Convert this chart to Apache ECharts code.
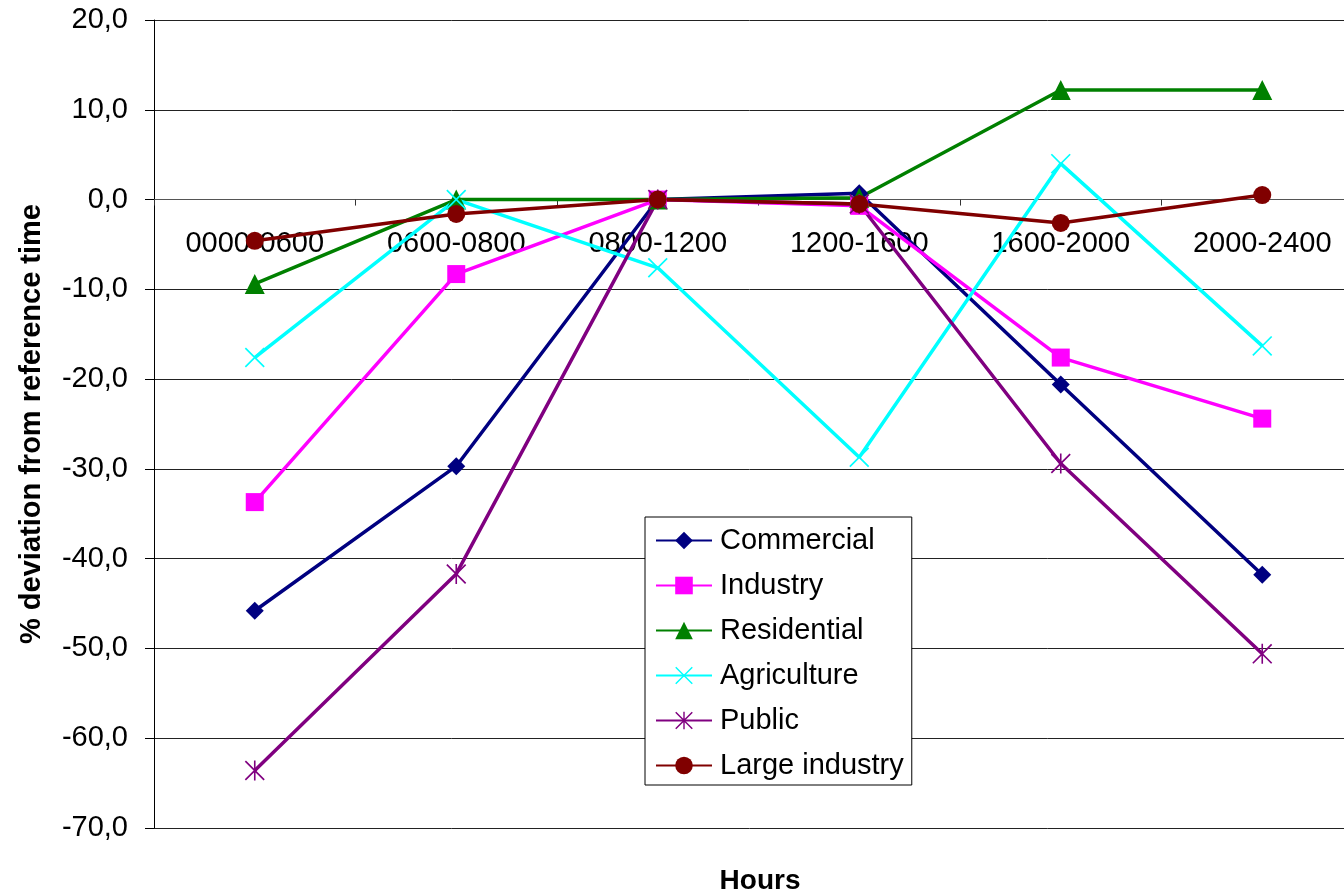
<!DOCTYPE html>
<html>
<head>
<meta charset="utf-8">
<script src="https://cdn.jsdelivr.net/npm/echarts@6/dist/echarts.min.js"></script>
<style>
  html, body { margin: 0; padding: 0; background: #ffffff; }
  #chart { width: 1344px; height: 891px; }
</style>
</head>
<body>
<div id="chart"></div>
<script>
// Time-of-day bands
const hours = ['0000-0600', '0600-0800', '0800-1200', '1200-1600', '1600-2000', '2000-2400'];

// % deviation from reference time, per customer class
const commercial    = [-45.8, -29.7, 0, 0.7, -20.6, -41.8];
const industry      = [-33.7, -8.3, 0, -0.7, -17.6, -24.4];
const residential   = [-9.4, 0, 0, 0.2, 12.2, 12.2];
const agriculture   = [-17.6, 0, -7.6, -28.7, 4.0, -16.3];
const publicSector  = [-63.6, -41.7, 0, -0.5, -29.4, -50.6];
const largeIndustry = [-4.6, -1.6, 0, -0.5, -2.6, 0.5];

// Value axis ticks
const yMin = -70, yMax = 20, yStep = 10;

const FONT = '"Liberation Sans", Arial, sans-serif';

// Plot frame (the right part of the plot runs past the canvas edge)
const GRID_TOP = 20, GRID_HEIGHT = 808;
// Shift that puts the category axis on the zero line
const zeroOffset = -GRID_HEIGHT * (0 - yMin) / (yMax - yMin);

// Thin-armed marker shapes (filled outlines so they render as strokes)
const xMark = 'path://M0 1.2L1.2 0L20 18.8L18.8 20Z M18.8 0L20 1.2L1.2 20L0 18.8Z';
const starMark = 'path://M0 1.2L1.2 0L20 18.8L18.8 20Z M18.8 0L20 1.2L1.2 20L0 18.8Z M9.2 0L10.8 0L10.8 20L9.2 20Z';

function line(name, data, color, symbol, size) {
  return {
    name: name,
    type: 'line',
    data: data,
    symbol: symbol,
    symbolSize: size,
    showAllSymbol: true,
    lineStyle: { color: color, width: 3.5 },
    itemStyle: { color: color },
    emphasis: { disabled: true }
  };
}

const chart = echarts.init(document.getElementById('chart'), null, { renderer: 'canvas' });

chart.setOption({
  animation: false,
  backgroundColor: '#ffffff',
  textStyle: { fontFamily: FONT },
  title: {
    text: 'Hours',
    left: 755,
    top: 862,
    textAlign: 'center',
    textStyle: { fontFamily: FONT, fontSize: 28, fontWeight: 'bold', color: '#000' }
  },
  grid: {
    left: 154, top: GRID_TOP, width: 1209, height: GRID_HEIGHT,
    containLabel: false,
    outerBoundsMode: 'none'
  },
  legend: {
    orient: 'vertical',
    left: 645,
    top: 517,
    padding: [9, 8, 5, 10],
    itemWidth: 56,
    itemHeight: 22,
    itemGap: 16,
    borderColor: '#000',
    borderWidth: 1,
    backgroundColor: '#ffffff',
    textStyle: { fontFamily: FONT, fontSize: 29, color: '#000', padding: [0, 0, 0, 3] },
    data: ['Commercial', 'Industry', 'Residential', 'Agriculture', 'Public', 'Large industry']
  },
  xAxis: {
    type: 'category',
    data: hours,
    boundaryGap: true,
    offset: zeroOffset,
    axisLine: { onZero: false, lineStyle: { color: '#555', width: 1 } },
    axisTick: { show: true, alignWithLabel: false, length: 6, lineStyle: { color: '#333' } },
    axisLabel: { margin: 30, fontFamily: FONT, fontSize: 29, color: '#000', interval: 0 },
    splitLine: { show: false }
  },
  yAxis: {
    type: 'value',
    min: yMin,
    max: yMax,
    interval: yStep,
    name: '% deviation from reference time',
    nameLocation: 'middle',
    nameGap: 108,
    nameTextStyle: { fontFamily: FONT, fontSize: 29, fontWeight: 'bold', color: '#000' },
    axisLine: { show: true, lineStyle: { color: '#000', width: 1 } },
    axisTick: { show: true, length: 9, lineStyle: { color: '#000' } },
    axisLabel: {
      margin: 26,
      fontFamily: FONT,
      fontSize: 29,
      color: '#000',
      formatter: v => v.toFixed(1).replace('.', ',')
    },
    splitLine: { show: true, lineStyle: { color: '#222', width: 1 } }
  },
  series: [
    line('Commercial', commercial, '#000080', 'diamond', 18),
    line('Industry', industry, '#ff00ff', 'rect', 18),
    line('Residential', residential, '#008000', 'triangle', 20),
    line('Agriculture', agriculture, '#00ffff', xMark, 20),
    line('Public', publicSector, '#800080', starMark, 20),
    line('Large industry', largeIndustry, '#800000', 'circle', 18)
  ]
});
</script>
</body>
</html>
